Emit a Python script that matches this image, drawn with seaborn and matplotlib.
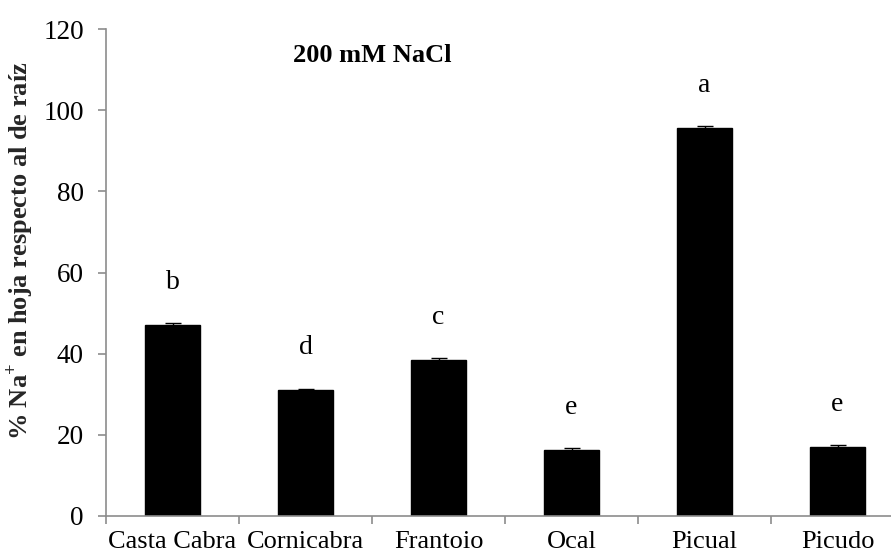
import matplotlib
matplotlib.use("Agg")
import matplotlib.pyplot as plt
import seaborn as sns
import pandas as pd
import numpy as np

# Cultivars, leaf Na+ relative to root (%), standard errors and significance letters
cultivars = ["Casta Cabra", "Cornicabra", "Frantoio", "Ocal", "Picual", "Picudo"]
na_leaf_pct = [47.0, 31.0, 38.5, 16.3, 95.5, 17.0]
std_err = [0.6, 0.4, 0.5, 0.4, 0.5, 0.4]
letters = ["b", "d", "c", "e", "a", "e"]
yticks = [0, 20, 40, 60, 80, 100, 120]

sns.set_theme(style="white")
plt.rcParams["font.family"] = ["Liberation Serif", "DejaVu Serif"]
plt.rcParams["mathtext.fontset"] = "custom"
plt.rcParams["mathtext.rm"] = "Liberation Serif"
plt.rcParams["mathtext.bf"] = "Liberation Serif:bold"

df = pd.DataFrame({"cultivar": cultivars, "value": na_leaf_pct})

fig = plt.figure(figsize=(8.91, 5.54), dpi=100)
ax = fig.add_axes([0.119, 0.0686, 0.8956, 0.879])

sns.barplot(data=df, x="cultivar", y="value", color="black", width=0.41,
            errorbar=None, ax=ax, saturation=1)
for p in ax.patches:
    p.set_edgecolor("black")

xpos = np.arange(len(cultivars))
ax.errorbar(xpos, na_leaf_pct, yerr=std_err, fmt="none", ecolor="black",
            elinewidth=1.0, capsize=6, capthick=1.0)

for x, v, e, lab in zip(xpos, na_leaf_pct, std_err, letters):
    ax.text(x, v + 10.5, lab, ha="center", va="center", fontsize=20, color="black")

ax.text(1.5, 113.5, "200 mM NaCl", ha="center", va="center", fontsize=19,
        fontweight="bold", color="black")

ax.set_ylim(0, 120)
ax.set_xlim(-0.5, len(cultivars) - 0.5)
ax.set_yticks(yticks)
ax.set_yticklabels([str(t) for t in yticks])
ax.set_xlabel("")
ax.set_ylabel(r"% Na$^{\mathbf{+}}$ en hoja respecto al de raíz", fontsize=19,
              fontweight="bold")
ax.yaxis.set_label_coords(-0.089, 0.545)

# category ticks between bars, labels centred under bars
ax.set_xticks(xpos)
ax.set_xticklabels(cultivars)
ax.set_xticks(np.arange(-0.5, len(cultivars) + 0.5, 1.0), minor=True)
ax.tick_params(axis="x", which="major", length=0, labelsize=19, pad=11, colors="black")
ax.tick_params(axis="x", which="minor", length=6, width=1.2, direction="out",
               color="#8c8c8c", bottom=True)
ax.tick_params(axis="y", which="major", length=6, width=1.2, direction="out",
               color="#8c8c8c", labelsize=19.5, pad=10, left=True)
for lab in ax.get_yticklabels():
    lab.set_color("black")

for s in ["top", "right"]:
    ax.spines[s].set_visible(False)
for s in ["left", "bottom"]:
    ax.spines[s].set_color("#8c8c8c")
    ax.spines[s].set_linewidth(1.2)

fig.savefig("out.png", dpi=100)
